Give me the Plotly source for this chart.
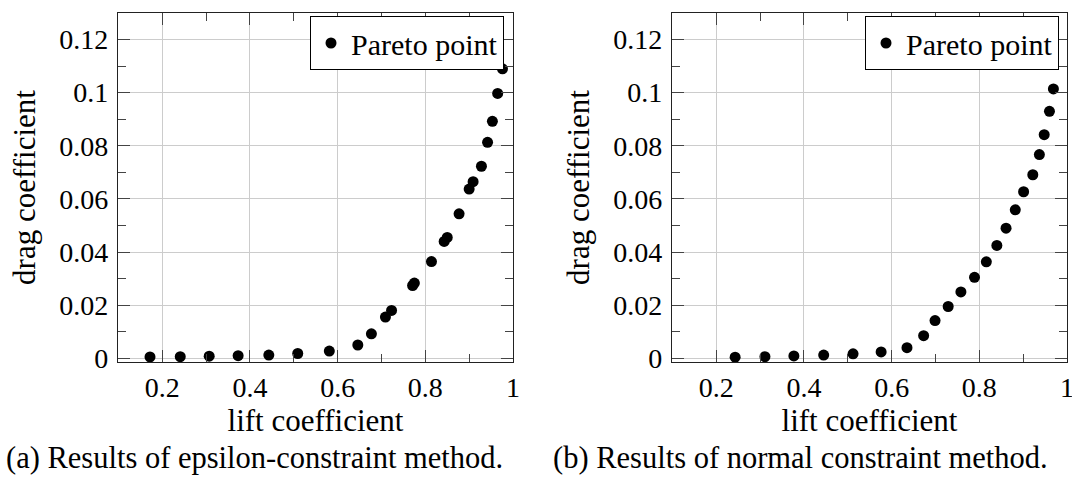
import plotly.graph_objects as go

# ---- data ----
eps_lift = [0.172, 0.241, 0.307, 0.373, 0.443, 0.509, 0.581, 0.646, 0.677, 0.709, 0.723,
            0.771, 0.775, 0.814, 0.843, 0.850, 0.877, 0.900, 0.909, 0.928, 0.942, 0.953,
            0.965, 0.976]
eps_drag = [0.0005, 0.0006, 0.0008, 0.0010, 0.0012, 0.0018, 0.0027, 0.0050, 0.0092, 0.0155, 0.0180,
            0.0274, 0.0283, 0.0364, 0.0440, 0.0455, 0.0544, 0.0637, 0.0665, 0.0723, 0.0813, 0.0892,
            0.0997, 0.1090]

nc_lift = [0.243, 0.311, 0.377, 0.445, 0.512, 0.576, 0.635, 0.673, 0.699, 0.729, 0.758,
           0.789, 0.816, 0.840, 0.861, 0.882, 0.901, 0.922, 0.937, 0.948, 0.960, 0.969]
nc_drag = [0.0004, 0.0006, 0.0009, 0.0012, 0.0017, 0.0024, 0.0040, 0.0085, 0.0142, 0.0195, 0.0250,
           0.0305, 0.0363, 0.0425, 0.0490, 0.0559, 0.0627, 0.0691, 0.0767, 0.0842, 0.0930, 0.1014]

x_ticks = [0.2, 0.4, 0.6, 0.8, 1.0]
x_tick_labels = ["0.2", "0.4", "0.6", "0.8", "1"]
x_minor = [0.1, 0.3, 0.5, 0.7, 0.9]
y_ticks = [0, 0.02, 0.04, 0.06, 0.08, 0.1, 0.12]
y_tick_labels = ["0", "0.02", "0.04", "0.06", "0.08", "0.1", "0.12"]
y_minor = [0.01, 0.03, 0.05, 0.07, 0.09, 0.11, 0.13]

legend_label = "Pareto point"
x_title = "lift coefficient"
y_title = "drag coefficient"
captions = ["(a) Results of epsilon-constraint method.", "(b) Results of normal constraint method."]

FONT = "Liberation Serif"
W, H = 1072, 484

fig = go.Figure()
fig.add_trace(go.Scatter(x=eps_lift, y=eps_drag, mode="markers", name=legend_label,
                         marker=dict(color="black", size=11), xaxis="x", yaxis="y",
                         legend="legend"))
fig.add_trace(go.Scatter(x=nc_lift, y=nc_drag, mode="markers", name=legend_label,
                         marker=dict(color="black", size=11), xaxis="x2", yaxis="y2",
                         legend="legend2"))

left_dom = [118 / W, 513 / W]
right_dom = [672 / W, 1067 / W]
y_dom = [1 - 362 / H, 1 - 13 / H]

def xaxis(dom, anchor):
    return dict(domain=dom, anchor=anchor, range=[0.099, 1.0],
                tickvals=x_ticks, ticktext=x_tick_labels,
                ticks="inside", ticklen=12, tickcolor="#444", tickwidth=1,
                mirror="ticks", showline=True, linecolor="#222", linewidth=1.2,
                showgrid=True, gridcolor="#cccccc", gridwidth=1, zeroline=False,
                minor=dict(tickvals=x_minor, ticks="inside", ticklen=8,
                           tickcolor="#444", showgrid=False),
                tickfont=dict(family=FONT, size=28, color="black"),
                ticklabelstandoff=0, ticklabeloverflow="allow",
                title=dict(text=x_title, font=dict(family=FONT, size=31, color="black"), standoff=4),
                automargin=False)

def yaxis(dom, anchor):
    return dict(domain=dom, anchor=anchor, range=[-0.0014, 0.13],
                tickvals=y_ticks, ticktext=y_tick_labels,
                ticks="inside", ticklen=12, tickcolor="#444", tickwidth=1,
                mirror="ticks", showline=True, linecolor="#222", linewidth=1.2,
                showgrid=True, gridcolor="#cccccc", gridwidth=1, zeroline=False,
                minor=dict(tickvals=y_minor, ticks="inside",
                           ticklen=8, tickcolor="#444", showgrid=False),
                tickfont=dict(family=FONT, size=28, color="black"),
                ticklabelstandoff=3, ticklabeloverflow="allow",
                title=dict(text=y_title, font=dict(family=FONT, size=31, color="black"), standoff=14),
                automargin=False)

legend_common = dict(xanchor="right", yanchor="top", bgcolor="white", bordercolor="black",
                     borderwidth=1, font=dict(family=FONT, size=30, color="black"),
                     itemwidth=30, tracegroupgap=0)

fig.update_layout(
    width=W, height=H,
    margin=dict(l=0, r=0, t=0, b=0),
    paper_bgcolor="white", plot_bgcolor="white",
    font=dict(family=FONT, size=30, color="black"),
    xaxis=xaxis(left_dom, "y"), yaxis=yaxis(y_dom, "x"),
    xaxis2=xaxis(right_dom, "y2"), yaxis2=yaxis(y_dom, "x2"),
    legend=dict(x=504 / W, y=1 - 16 / H, **legend_common),
    legend2=dict(x=1059 / W, y=1 - 16 / H, **legend_common),
    showlegend=True,
)

for cx, text in zip([254, 800], captions):
    fig.add_annotation(x=cx / W, y=1 - 458 / H, xref="paper", yref="paper",
                       text=text, showarrow=False, xanchor="center", yanchor="middle",
                       font=dict(family=FONT, size=30.5, color="black"))

fig.write_html("out.html")
